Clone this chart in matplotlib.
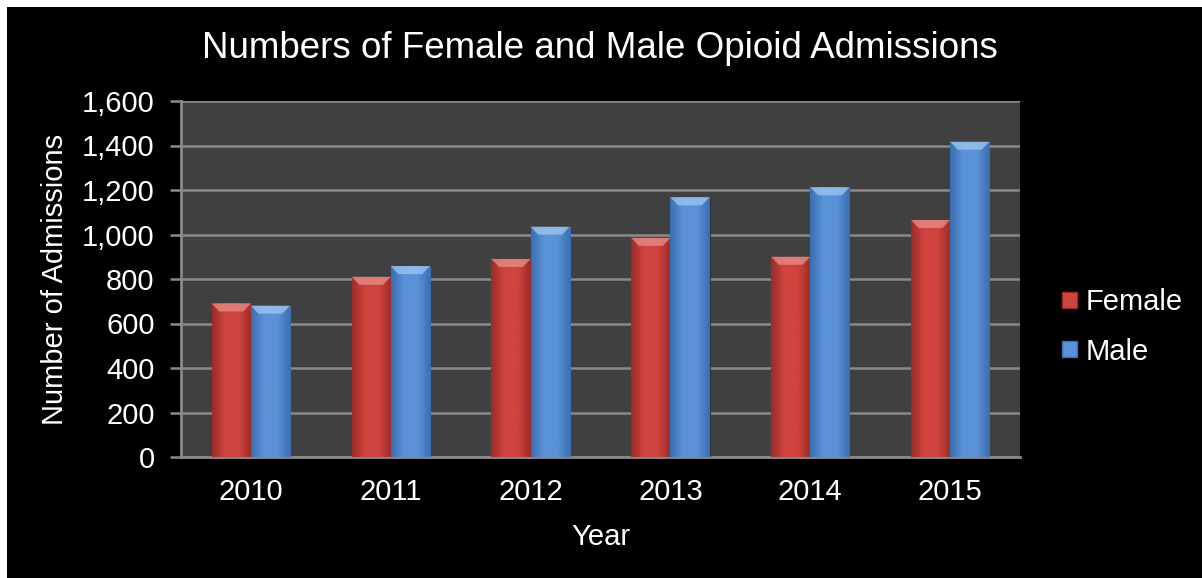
import numpy as np
import matplotlib.pyplot as plt
from matplotlib.patches import Polygon, Patch, Rectangle
from matplotlib.colors import LinearSegmentedColormap

# ================= data =================
years = ["2010", "2011", "2012", "2013", "2014", "2015"]
female = [690, 810, 890, 985, 900, 1065]
male = [680, 858, 1035, 1167, 1212, 1417]

series = [("Female", female), ("Male", male)]

# ================= style =================
plt.rcParams['font.family'] = ['Liberation Sans', 'DejaVu Sans']
fs = 21
colors = {
    "Female": {"dark": "#9c2b27", "mid": "#d0443f", "light": "#e88a85"},
    "Male":   {"dark": "#3a6fb0", "mid": "#5a92d8", "light": "#9cc3ef"},
}

fig = plt.figure(figsize=(12.02, 5.78), dpi=100)
fig.patch.set_facecolor("white")
# black panel, offset a few px (white strip top/left like the source crop)
fig.patches.append(Rectangle((7 / 1202, 0), 1, 1 - 7 / 578, transform=fig.transFigure,
                             facecolor="black", edgecolor="none", zorder=-10))

ax = fig.add_axes([181 / 1202, 1 - 457 / 578, (1020 - 181) / 1202, (457 - 101) / 578])
ax.set_zorder(1)
ax.set_facecolor("#404040")

x = np.arange(len(years))
w = 0.28
px_per_unit = (457 - 101) / 1600.0
bevel_h = 8 / px_per_unit       # bevel height in data units (~8 px)
bevel_in = 0.055                # bevel inset in category units

for i, (name, vals) in enumerate(series):
    c = colors[name]
    cmap = LinearSegmentedColormap.from_list(name, [c["dark"], c["mid"], c["mid"], c["dark"]])
    offs = (i - 0.5) * w
    bars = ax.bar(x + offs, vals, width=w, color=c["mid"], edgecolor="#2a2a2a",
                  linewidth=0.6, zorder=3)
    grad = np.linspace(0, 1, 64).reshape(1, -1)
    for b, v in zip(bars, vals):
        x0 = b.get_x()
        x1 = x0 + b.get_width()
        im = ax.imshow(grad, cmap=cmap, aspect="auto", extent=[x0, x1, 0, v],
                       zorder=3.5, interpolation="bicubic")
        im.set_clip_path(b)
        top = Polygon([[x0, v], [x1, v], [x1 - bevel_in, v - bevel_h], [x0 + bevel_in, v - bevel_h]],
                      closed=True, facecolor=c["light"], edgecolor="none", alpha=0.8, zorder=4)
        ax.add_patch(top)

ax.set_xlim(-0.5, len(years) - 0.5)
ax.set_ylim(0, 1600)
ax.set_yticks(np.arange(0, 1601, 200))
ax.set_yticklabels([f"{v:,}" for v in range(0, 1601, 200)])
ax.set_xticks(x)
ax.set_xticklabels(years)

ax.grid(axis="y", color="#8a8a8a", linewidth=1.8, zorder=1)
ax.set_axisbelow(True)
for s in ["top", "right"]:
    ax.spines[s].set_visible(False)
for s in ["left", "bottom"]:
    ax.spines[s].set_color("#8a8a8a")
    ax.spines[s].set_linewidth(2)

ax.tick_params(axis="y", colors="#8a8a8a", length=8, width=1.8, labelcolor="white",
               labelsize=fs, pad=11)
ax.tick_params(axis="x", length=0, labelcolor="white", labelsize=fs, pad=15)

ax.set_xlabel("Year", color="white", fontsize=fs)
ax.set_ylabel("Number of Admissions", color="white", fontsize=fs)
ax.xaxis.set_label_coords(0.5, -0.185)
ax.yaxis.set_label_coords(-0.133, 0.5)

fig.text(600 / 1202, 1 - 48 / 578, "Numbers of Female and Male Opioid Admissions",
         color="white", fontsize=26.5, ha="center", va="center")

handles = [Patch(facecolor=colors[n]["mid"], edgecolor=colors[n]["dark"], label=n) for n, _ in series]
leg = fig.legend(handles=handles, loc="center left", bbox_to_anchor=(1036 / 1202, 1 - 327 / 578),
                 frameon=False, fontsize=fs, handlelength=0.5, handleheight=0.5,
                 handletextpad=0.3, labelspacing=0.72, labelcolor="white")

fig.savefig("out.png", dpi=100, facecolor=fig.get_facecolor())
